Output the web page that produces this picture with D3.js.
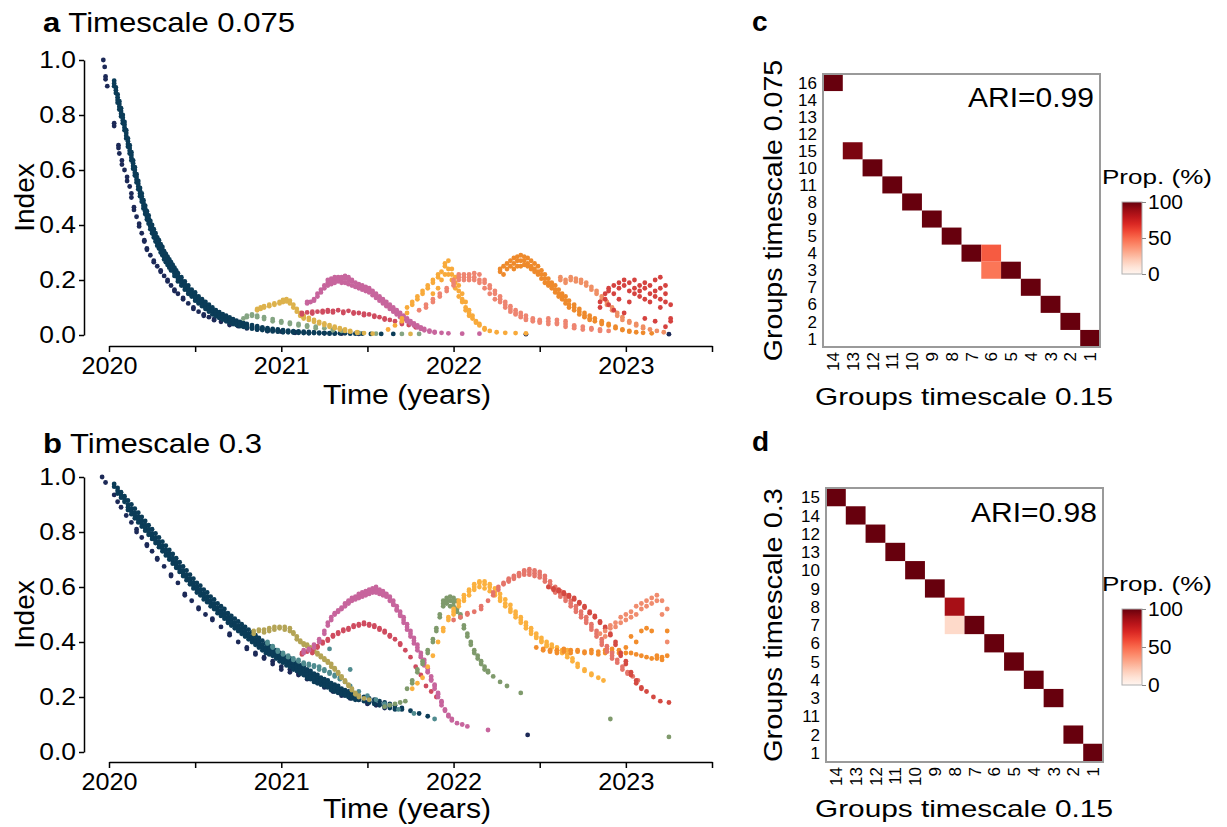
<!DOCTYPE html>
<html>
<head>
<meta charset="utf-8">
<script src="https://cdn.jsdelivr.net/npm/d3@7"></script>
<style>
  body { margin: 0; background: #fff; }
  svg text { font-family: "Liberation Sans", Arial, Helvetica, sans-serif; fill: #000; }
</style>
</head>
<body>
<script>
// axis ticks
var yearTicks = [2020, 2020.5, 2021, 2021.5, 2022, 2022.5, 2023, 2023.5];
var yearLabels = ["2020", "", "2021", "", "2022", "", "2023", ""];
var indexTicks = [0, 0.2, 0.4, 0.6, 0.8, 1.0];

// rows: [time, index values seen at that time...]
// ---- panel a, timescale 0.075
var aNavy = [[2019.967,1.0],[2019.975,.975],[2019.98,.94,.93],[2019.99,.905],[2020.03,.77,.76],[2020.055,.69,.68],[2020.06,.66],[2020.075,.635,.62],[2020.09,.6],[2020.105,.575,.56],[2020.12,.54],[2020.13,.515,.5],[2020.145,.465,.455],[2020.16,.43],[2020.175,.405,.395],[2020.19,.37],[2020.205,.345,.34],[2020.22,.315,.31],[2020.24,.29],[2020.26,.27,.265],[2020.28,.25],[2020.3,.23,.235],[2020.32,.215],[2020.34,.195,.2],[2020.36,.18],[2020.38,.16,.165],[2020.4,.15],[2020.43,.13,.135],[2020.46,.115],[2020.49,.1,.095],[2020.52,.085],[2020.55,.075,.07],[2020.58,.065],[2020.61,.058,.054],[2020.65,.048],[2020.7,.04,.036],[2020.75,.032],[2020.8,.027,.024],[2020.86,.02],[2020.92,.016,.014],[2021.0,.012],[2021.08,.01,.008],[2021.16,.008],[2021.25,.006],[2021.35,.005],[2021.45,.004],[2022.42,.003],[2023.25,.003]];
var aTeal = [[2020.03,.925,.915,.905],[2020.04,.9,.89,.88],[2020.05,.875,.865,.855,.845],[2020.06,.85,.84,.83,.82],[2020.07,.825,.815,.805,.795],[2020.08,.8,.79,.78,.77],[2020.09,.775,.765,.755,.745],[2020.1,.745,.735,.725,.715],[2020.11,.715,.705,.695,.685],[2020.12,.69,.68,.67,.66],[2020.13,.665,.655,.645,.635],[2020.14,.635,.625,.615,.605],[2020.15,.61,.6,.59,.58],[2020.16,.585,.575,.565,.555],[2020.17,.56,.55,.54,.53],[2020.18,.535,.525,.515,.505],[2020.19,.515,.505,.495,.485],[2020.2,.49,.48,.47,.46],[2020.21,.47,.46,.45,.44],[2020.22,.45,.44,.43,.42],[2020.23,.435,.425,.415,.405],[2020.24,.415,.405,.395,.385],[2020.25,.4,.39,.38,.37],[2020.26,.385,.375,.365,.355],[2020.27,.37,.36,.35,.34],[2020.28,.355,.345,.335,.325],[2020.29,.345,.335,.325,.315],[2020.3,.33,.32,.31,.3],[2020.31,.32,.31,.3,.29],[2020.32,.305,.295,.285,.275],[2020.33,.295,.285,.275,.265],[2020.34,.285,.275,.265,.255],[2020.35,.275,.265,.255,.245],[2020.36,.265,.255,.245,.235],[2020.37,.255,.245,.235],[2020.38,.245,.235,.225,.215],[2020.39,.235,.225,.215],[2020.4,.225,.215,.205,.195],[2020.42,.21,.2,.19,.18],[2020.44,.195,.185,.175,.165],[2020.46,.18,.17,.16,.15],[2020.48,.165,.155,.145,.14],[2020.5,.155,.145,.135,.125],[2020.52,.14,.13,.12,.115],[2020.54,.13,.12,.11,.105],[2020.56,.12,.11,.1,.095],[2020.58,.11,.1,.09,.085],[2020.6,.1,.09,.085,.075],[2020.62,.09,.082,.075,.068],[2020.64,.083,.075,.068,.062],[2020.66,.076,.068,.062,.056],[2020.68,.07,.062,.056,.05],[2020.7,.064,.056,.05,.045],[2020.72,.058,.05,.045,.04],[2020.74,.052,.046,.04,.036],[2020.76,.048,.042,.036,.032],[2020.78,.044,.038,.033,.03],[2020.8,.04,.034,.03,.027],[2020.83,.036,.03,.026,.023],[2020.86,.032,.027,.023,.02],[2020.89,.028,.024,.02,.018],[2020.92,.025,.021,.018,.015],[2020.95,.022,.019,.016,.013],[2020.98,.02,.017,.014,.012],[2021.01,.018,.015,.012,.01],[2021.04,.016,.013,.01],[2021.07,.014,.011,.009],[2021.1,.013,.01,.008],[2021.13,.012,.009,.007],[2021.16,.011,.008,.006],[2021.19,.01,.007],[2021.22,.009,.006],[2021.25,.008,.006],[2021.28,.007,.005],[2021.31,.007,.005],[2021.34,.006],[2021.37,.006],[2021.4,.005],[2021.43,.005],[2021.47,.005],[2021.52,.004],[2021.58,.004],[2021.65,.004]];
var aSage = [[2020.78,.06],[2020.8,.07,.065],[2020.83,.075,.07],[2020.86,.07,.065],[2020.9,.065,.058],[2020.95,.058,.05],[2021.0,.05,.045],[2021.05,.045,.04],[2021.1,.04,.035],[2021.15,.035,.03],[2021.2,.03,.025],[2021.25,.025],[2021.3,.02,.017],[2021.35,.015],[2021.45,.008],[2021.55,.005],[2021.7,.004],[2021.8,.004]];
var aMustard = [[2020.86,.095,.09],[2020.88,.1,.095],[2020.9,.105,.1],[2020.93,.11,.105],[2020.96,.115,.11],[2020.99,.12,.115],[2021.01,.128,.12],[2021.03,.13,.122],[2021.05,.125,.115],[2021.07,.11,.1],[2021.09,.095,.085],[2021.11,.08,.07],[2021.13,.07,.065,.06],[2021.16,.062,.055],[2021.19,.055,.048],[2021.22,.048,.042],[2021.25,.042,.036],[2021.28,.036,.03],[2021.31,.03,.025],[2021.34,.025,.02],[2021.37,.02,.015],[2021.4,.015,.012],[2021.44,.01,.008],[2021.48,.007],[2021.53,.005],[2021.75,.004]];
var aPink = [[2021.15,.12,.115],[2021.17,.12],[2021.19,.13,.125],[2021.21,.15,.14],[2021.23,.165,.155],[2021.25,.18,.17],[2021.27,.19,.18,.2],[2021.29,.195,.185,.205],[2021.31,.2,.19,.21],[2021.33,.21,.195,.2],[2021.35,.2,.19,.21],[2021.37,.205,.19,.215],[2021.39,.2,.185,.21],[2021.41,.195,.18,.2],[2021.43,.19,.175],[2021.45,.185,.17,.18],[2021.47,.18,.165,.175],[2021.49,.175,.16,.17],[2021.51,.17,.155,.16],[2021.53,.16,.145,.155],[2021.55,.15,.135,.145],[2021.57,.14,.125,.135],[2021.59,.13,.115,.12],[2021.61,.12,.105,.11],[2021.63,.11,.095,.1],[2021.65,.1,.085,.09],[2021.67,.09,.075,.08],[2021.69,.08,.065,.07],[2021.71,.07,.058,.062],[2021.73,.06,.05],[2021.75,.05,.042],[2021.77,.042,.035],[2021.79,.035,.028],[2021.81,.028,.022],[2021.83,.022,.017],[2021.86,.016,.012],[2021.89,.011,.009],[2021.93,.008],[2021.97,.006],[2022.05,.005],[2022.15,.005]];
var aCrimson = [[2021.12,.08,.075],[2021.15,.082],[2021.18,.078,.085],[2021.21,.085],[2021.24,.088,.082],[2021.27,.09,.085],[2021.3,.088,.082],[2021.33,.09],[2021.36,.085,.08],[2021.39,.088],[2021.42,.082,.078],[2021.45,.08],[2021.48,.078,.072],[2021.51,.075],[2021.54,.07,.066],[2021.57,.065],[2021.6,.06,.056],[2021.63,.055],[2021.66,.05],[2021.7,.045,.04],[2021.74,.036],[2021.78,.028]];
var aYellow = [[2021.62,.02],[2021.66,.035],[2021.7,.05,.06],[2021.73,.08,.1],[2021.76,.11,.12],[2021.79,.13,.14],[2021.82,.15,.16],[2021.85,.17,.18],[2021.88,.19,.2,.15],[2021.91,.21,.22,.17],[2021.93,.23,.2],[2021.95,.25,.22,.26],[2021.97,.27,.24,.22],[2021.99,.24,.22,.2],[2022.01,.21,.19,.17],[2022.03,.18,.16,.14],[2022.05,.15,.13,.12],[2022.07,.12,.1,.09],[2022.09,.09,.08,.07],[2022.11,.07,.06],[2022.13,.05,.045],[2022.15,.04,.035],[2022.18,.025,.02],[2022.21,.015],[2022.25,.01],[2022.3,.008],[2022.36,.007],[2022.42,.006]];
var aSalmon = [[2021.8,.09],[2021.84,.1,.11],[2021.88,.12,.13],[2021.92,.14,.15],[2021.96,.17,.16],[2022.0,.19,.2,.18],[2022.03,.21,.2,.22],[2022.06,.22,.21,.2],[2022.09,.22,.21,.2],[2022.12,.225,.21,.2],[2022.15,.22,.2,.19],[2022.18,.2,.19,.17],[2022.21,.18,.17,.15],[2022.24,.16,.15,.13],[2022.27,.14,.13,.12],[2022.3,.12,.11,.1],[2022.33,.105,.095,.085],[2022.36,.09,.08,.075],[2022.39,.08,.07,.065],[2022.42,.07,.06,.055],[2022.46,.06,.055,.05],[2022.5,.055,.05,.045],[2022.55,.05,.04,.06],[2022.6,.045,.04,.055],[2022.65,.04,.03,.05],[2022.7,.035,.03,.025],[2022.75,.03,.02],[2022.8,.025,.02],[2022.85,.02,.015],[2022.9,.015]];
var aOrange = [[2022.27,.24,.23],[2022.29,.25,.22],[2022.31,.26,.24],[2022.33,.27,.25],[2022.35,.28,.26,.24],[2022.37,.285,.27,.25],[2022.39,.29,.27,.25],[2022.41,.285,.27,.255],[2022.43,.28,.26,.25],[2022.45,.27,.25,.24],[2022.47,.26,.24,.23],[2022.49,.25,.23,.22],[2022.51,.235,.22,.205],[2022.53,.22,.205,.19],[2022.55,.205,.19,.18],[2022.57,.19,.18,.17],[2022.59,.18,.165,.155],[2022.61,.165,.15,.14],[2022.63,.15,.14,.13],[2022.65,.14,.125,.115],[2022.67,.125,.11,.1],[2022.7,.11,.1,.09],[2022.73,.095,.085,.075],[2022.76,.08,.07,.065],[2022.79,.07,.06,.055],[2022.82,.06,.05],[2022.86,.05,.045,.04],[2022.9,.04,.035],[2022.94,.03,.025],[2022.98,.02,.018],[2023.02,.015,.012],[2023.06,.01],[2023.1,.008],[2023.15,.006]];
var aCoral = [[2022.62,.21,.2],[2022.65,.2,.19],[2022.68,.21,.2],[2022.71,.205,.195],[2022.74,.2,.19],[2022.77,.19,.18],[2022.8,.175,.165],[2022.83,.16,.15],[2022.86,.14,.13],[2022.89,.12,.11],[2022.92,.1,.09],[2022.95,.08,.07],[2022.98,.065,.055],[2023.02,.05,.045],[2023.06,.04,.035],[2023.1,.03,.025],[2023.14,.02],[2023.18,.015],[2023.22,.01]];
var aRed = [[2022.85,.12,.1],[2022.88,.15,.13],[2022.9,.17,.16,.11],[2022.93,.18,.15,.09],[2022.96,.19,.17,.13],[2022.99,.2,.18,.08],[2023.02,.19,.16,.12],[2023.05,.2,.17,.15],[2023.08,.18,.16,.14],[2023.11,.19,.17,.13,.06],[2023.14,.18,.15,.12],[2023.17,.2,.16,.14,.05],[2023.2,.21,.17,.13,.1],[2023.23,.18,.15,.12,.03],[2023.26,.11,.06,.05]];

// ---- panel b, timescale 0.3
var bNavy = [[2019.96,1.0],[2019.98,.98],[2020.03,.935],[2020.05,.91],[2020.07,.89],[2020.1,.86],[2020.13,.835],[2020.16,.81,.8],[2020.19,.78],[2020.22,.755,.75],[2020.25,.73],[2020.28,.705,.7],[2020.32,.675],[2020.36,.645,.64],[2020.4,.615],[2020.44,.575,.57],[2020.48,.55],[2020.52,.525,.52],[2020.56,.5],[2020.6,.485,.48],[2020.65,.455],[2020.7,.43,.425],[2020.75,.4],[2020.8,.38,.375],[2020.85,.36,.355],[2020.9,.345,.34],[2020.95,.33,.32],[2021.0,.31,.3],[2021.05,.3,.29],[2021.1,.285,.28],[2021.15,.27,.265],[2021.2,.255],[2021.25,.24,.235],[2021.3,.225,.22],[2021.35,.21,.205],[2021.4,.2,.195],[2021.45,.19],[2021.5,.18,.175],[2021.55,.17],[2021.6,.16],[2022.43,.062]];
var bTeal = [[2020.03,.975,.965],[2020.05,.96,.95,.94],[2020.07,.945,.935,.925],[2020.09,.93,.92,.91],[2020.11,.915,.9,.89,.88],[2020.13,.9,.885,.875,.865],[2020.15,.885,.87,.86,.85],[2020.17,.87,.855,.845,.835],[2020.19,.855,.84,.83,.82],[2020.21,.84,.825,.815,.805],[2020.23,.825,.81,.8,.79],[2020.25,.81,.795,.785,.775],[2020.27,.795,.78,.77,.76],[2020.29,.78,.765,.755,.745],[2020.31,.765,.75,.74,.73],[2020.33,.75,.735,.725,.715],[2020.35,.735,.72,.71,.7],[2020.37,.72,.705,.695,.685],[2020.39,.705,.69,.68,.67],[2020.41,.69,.675,.665,.655],[2020.43,.675,.66,.65,.64],[2020.45,.66,.645,.635,.625],[2020.47,.645,.63,.62,.61],[2020.49,.63,.615,.605,.595],[2020.51,.615,.6,.59,.58],[2020.53,.605,.59,.58,.57],[2020.55,.59,.575,.565,.555],[2020.57,.58,.565,.555,.545],[2020.59,.565,.55,.54,.53],[2020.61,.555,.54,.53,.52],[2020.63,.54,.525,.515,.505],[2020.65,.53,.515,.505,.495],[2020.67,.52,.505,.495,.485],[2020.69,.505,.49,.48,.47],[2020.71,.495,.48,.47,.46],[2020.73,.485,.47,.46,.45],[2020.75,.475,.46,.45,.44],[2020.77,.465,.45,.44,.43],[2020.79,.455,.44,.43,.42],[2020.81,.445,.43,.42,.41],[2020.83,.435,.42,.41,.4],[2020.85,.425,.41,.4,.39],[2020.87,.415,.4,.39,.38],[2020.89,.405,.39,.38,.37],[2020.91,.395,.38,.37,.36],[2020.93,.385,.375,.365,.355],[2020.95,.38,.37,.36,.35],[2020.97,.37,.36,.35,.34],[2020.99,.36,.35,.34,.33],[2021.01,.355,.345,.335,.325],[2021.03,.345,.335,.325,.315],[2021.05,.34,.33,.32,.31],[2021.07,.33,.32,.31,.3],[2021.09,.325,.315,.305,.295],[2021.11,.315,.305,.295,.285],[2021.13,.31,.3,.29,.28],[2021.15,.3,.29,.28,.27],[2021.17,.295,.285,.275,.265],[2021.19,.285,.275,.265,.255],[2021.21,.28,.27,.26,.25],[2021.23,.27,.26,.25,.245],[2021.25,.265,.255,.245,.24],[2021.27,.26,.25,.24,.235],[2021.29,.25,.24,.23,.225],[2021.31,.245,.235,.225,.22],[2021.33,.24,.23,.22,.215],[2021.35,.23,.22,.215,.21],[2021.37,.225,.215,.21,.205],[2021.39,.22,.21,.205,.2],[2021.41,.215,.205,.2,.195],[2021.43,.21,.2,.195,.19],[2021.45,.205,.195,.19],[2021.48,.2,.19,.185],[2021.51,.195,.185,.18],[2021.54,.19,.18,.175],[2021.57,.185,.175,.17],[2021.6,.18,.17,.165],[2021.63,.175,.165,.16],[2021.66,.17,.16,.155],[2021.7,.16,.155],[2021.75,.15],[2021.8,.14],[2021.85,.13]];
var bLightTeal = [[2020.92,.4,.395],[2020.95,.385,.38],[2020.98,.37,.365],[2021.01,.36,.355],[2021.04,.35,.345],[2021.07,.34,.335],[2021.1,.335,.33],[2021.13,.325,.32],[2021.16,.32,.315],[2021.19,.315,.31],[2021.22,.31,.3],[2021.25,.3,.295],[2021.28,.29,.285,.375],[2021.31,.28,.275],[2021.34,.27,.265],[2021.37,.255],[2021.4,.3,.24],[2021.45,.22],[2021.5,.205],[2021.55,.19],[2021.6,.175],[2021.68,.155],[2021.77,.14],[2021.89,.12]];
var bOlive = [[2020.84,.44,.43],[2020.87,.44,.445],[2020.9,.445,.435],[2020.93,.44,.45],[2020.96,.445,.455],[2020.99,.45,.455],[2021.02,.455,.445],[2021.05,.45,.44],[2021.07,.435,.43],[2021.09,.42,.41],[2021.11,.405,.4],[2021.13,.395,.39],[2021.15,.39,.385],[2021.17,.38,.375],[2021.19,.37,.365],[2021.21,.36,.355],[2021.23,.35,.345],[2021.25,.34,.335],[2021.27,.33,.325],[2021.29,.32,.31],[2021.31,.305,.3],[2021.33,.29,.285],[2021.35,.275,.27],[2021.37,.26,.255],[2021.39,.245,.24],[2021.41,.23,.225],[2021.43,.215,.21],[2021.45,.205,.2],[2021.48,.195],[2021.51,.19]];
var bPink = [[2021.13,.36,.37],[2021.16,.37,.375],[2021.19,.39,.38],[2021.22,.41,.4],[2021.25,.44,.43],[2021.27,.47,.46],[2021.29,.49,.48],[2021.31,.505,.5],[2021.33,.515,.51],[2021.35,.525,.52],[2021.37,.535,.53,.54],[2021.39,.545,.54,.55],[2021.41,.555,.55,.56],[2021.43,.56,.555,.565],[2021.45,.57,.56,.575],[2021.47,.575,.565,.58],[2021.49,.58,.57,.585],[2021.51,.585,.575,.59],[2021.53,.59,.58,.595],[2021.55,.59,.58,.6],[2021.57,.59,.575,.585],[2021.59,.585,.57,.58],[2021.61,.575,.565,.57],[2021.63,.565,.55,.56],[2021.65,.55,.54,.535],[2021.67,.53,.52,.515],[2021.69,.51,.5,.495],[2021.71,.49,.48,.47],[2021.73,.465,.455,.445],[2021.75,.44,.43,.42],[2021.77,.415,.405,.395],[2021.79,.39,.38,.37],[2021.81,.36,.35,.345],[2021.83,.335,.325,.315],[2021.85,.305,.295,.29],[2021.87,.275,.265,.26],[2021.89,.245,.24,.23],[2021.91,.215,.21,.2],[2021.93,.185,.18,.17],[2021.95,.155,.15],[2021.97,.135,.13],[2021.99,.12,.115],[2022.02,.105],[2022.05,.1],[2022.08,.093],[2022.2,.08]];
var bCrimson = [[2021.12,.36,.355],[2021.15,.365],[2021.18,.36,.37],[2021.21,.38,.385],[2021.24,.395,.4],[2021.27,.41,.405],[2021.3,.42,.425],[2021.33,.43,.435],[2021.36,.44,.445],[2021.39,.45,.445],[2021.42,.455,.46],[2021.45,.46,.465],[2021.48,.465,.47],[2021.51,.465,.46],[2021.54,.455,.46],[2021.57,.45,.445],[2021.6,.44,.435],[2021.63,.425,.42],[2021.66,.41],[2021.69,.395,.39],[2021.72,.37],[2021.75,.345],[2021.78,.31],[2021.81,.28],[2021.84,.24],[2021.87,.22],[2021.9,.2]];
var bSage = [[2021.6,.165],[2021.63,.17],[2021.66,.175],[2021.69,.18],[2021.72,.185],[2021.73,.23],[2021.76,.26,.25],[2021.79,.3,.29],[2021.82,.33,.32],[2021.85,.37,.36],[2021.88,.41,.4],[2021.9,.45,.44],[2021.92,.49,.5],[2021.94,.54,.55,.53],[2021.96,.56,.55,.54],[2021.98,.565,.55,.53],[2022.0,.56,.545,.53],[2022.02,.55,.52,.51],[2022.04,.5,.49],[2022.06,.46,.45],[2022.08,.43,.42],[2022.1,.4,.39],[2022.12,.37,.36],[2022.14,.35,.34],[2022.16,.33,.32],[2022.18,.31,.3],[2022.2,.295,.29],[2022.23,.275],[2022.27,.255],[2022.31,.24],[2022.39,.215],[2022.91,.12],[2023.25,.055]];
var bYellow = [[2021.76,.23],[2021.79,.25],[2021.82,.27],[2021.85,.31],[2021.88,.35],[2021.91,.4],[2021.94,.44,.45],[2021.97,.48,.49],[2022.0,.51,.52,.5],[2022.03,.54,.55,.53],[2022.06,.56,.57,.55],[2022.09,.585,.59,.57],[2022.12,.6,.61,.59],[2022.15,.615,.62,.6],[2022.18,.62,.61,.595],[2022.21,.61,.6,.585],[2022.24,.595,.58,.57],[2022.27,.575,.56,.55],[2022.3,.555,.54,.53],[2022.33,.535,.52,.51],[2022.36,.51,.5,.49],[2022.39,.49,.48,.47],[2022.42,.47,.46,.45],[2022.45,.45,.44,.43],[2022.48,.43,.42,.415],[2022.51,.415,.405,.4],[2022.54,.4,.39,.385],[2022.57,.39,.38],[2022.6,.38,.37,.365],[2022.63,.37,.36],[2022.66,.355,.345,.37],[2022.69,.34,.33],[2022.72,.32,.31],[2022.76,.3,.295],[2022.8,.285,.28],[2022.84,.27],[2022.87,.26]];
var bOrange = [[2022.48,.38],[2022.52,.375,.37],[2022.56,.37,.365],[2022.6,.37,.36],[2022.64,.365,.375],[2022.68,.37,.36],[2022.72,.365,.37],[2022.76,.36,.365],[2022.8,.37,.36],[2022.84,.365,.355],[2022.88,.37,.36],[2022.92,.375,.365],[2022.96,.37,.36],[2023.0,.38,.36],[2023.03,.42,.36],[2023.06,.4,.355],[2023.09,.44,.35],[2023.12,.45,.345],[2023.15,.44,.34],[2023.18,.35,.34],[2023.21,.345,.335],[2023.24,.35,.44]];
var bSalmon = [[2022.0,.48],[2022.04,.49],[2022.08,.5,.505],[2022.12,.51],[2022.16,.52,.53],[2022.2,.55],[2022.23,.57,.58],[2022.26,.6,.59],[2022.29,.615,.61],[2022.32,.63,.625,.62],[2022.35,.64,.635,.63],[2022.38,.65,.645,.64],[2022.41,.66,.655,.645],[2022.44,.665,.655,.645],[2022.47,.66,.65,.64],[2022.5,.655,.645,.635],[2022.53,.64,.63,.62],[2022.56,.62,.61,.6],[2022.59,.6,.59,.58],[2022.62,.585,.575,.565],[2022.65,.57,.56,.55],[2022.68,.55,.54,.53],[2022.71,.53,.52,.51],[2022.74,.51,.5,.49],[2022.77,.49,.48,.47],[2022.8,.465,.455,.445],[2022.83,.44,.43,.42],[2022.86,.41,.4,.39],[2022.89,.385,.375,.365],[2022.92,.36,.35,.34],[2022.95,.335,.325],[2022.98,.31,.3],[2023.01,.29,.285],[2023.04,.275],[2023.07,.26]];
var bRed = [[2022.55,.6],[2022.58,.595,.59],[2022.61,.59,.585],[2022.64,.58,.575],[2022.67,.57,.565],[2022.7,.56,.555],[2022.73,.545,.54],[2022.76,.53,.525],[2022.79,.51,.505],[2022.82,.495,.49],[2022.85,.475,.47],[2022.88,.455,.45],[2022.91,.43,.425],[2022.94,.4,.39],[2022.97,.36,.35],[2023.0,.32,.33],[2023.03,.29,.28],[2023.06,.26,.25],[2023.09,.235,.23],[2023.12,.22],[2023.16,.2],[2023.2,.185],[2023.25,.18]];
var bCoral = [[2022.85,.43],[2022.88,.44,.42],[2022.91,.46,.45],[2022.94,.47,.455],[2022.97,.49,.47],[2023.0,.5,.48],[2023.03,.51,.49],[2023.06,.53,.5],[2023.09,.54,.52],[2023.12,.55,.53],[2023.15,.56,.54],[2023.18,.57,.55],[2023.21,.55,.5],[2023.24,.52,.4]];

// heatmaps: [row group, column group, proportion %]
var hmCols = ["14","13","12","11","10","9","8","7","6","5","4","3","2","1"];
var cRows = ["16","14","13","12","15","10","11","8","9","5","4","3","7","6","2","1"];
var cCells = [["16","14",100],["15","13",96],["10","12",100],["11","11",100],["8","10",100],["9","9",100],["5","8",100],["4","7",100],["4","6",54],["3","6",46],["3","5",100],["7","4",100],["6","3",100],["2","2",100],["1","1",100]];
var dRows = ["15","14","12","13","10","9","8","7","6","5","4","3","11","2","1"];
var dCells = [["15","14",100],["14","13",100],["12","12",100],["13","11",100],["10","10",100],["9","9",100],["8","8",86],["7","8",14],["7","7",100],["6","6",100],["5","5",100],["4","4",100],["3","3",100],["2","2",100],["1","1",100]];
var propTicks = [0, 50, 100];

var colours = {
  navy: "#1c2957", teal: "#0b3c58", sage: "#85a583", mustard: "#ddb24c",
  pink: "#c7659d", crimson: "#cf4b5f", yellow: "#f8aa3b", salmon: "#ee8571",
  orange: "#ee8a2c", coral: "#ef8f64", red: "#d5423f",
  lightteal: "#4f8b8f", olive: "#b4a456", bsage: "#7f9a6c", byellow: "#fbb13f",
  bsalmon: "#e5756a", bred: "#d44a42", borange: "#f28d2c", bcoral: "#f08c6e"
};

var seriesA = [["navy", aNavy], ["teal", aTeal], ["sage", aSage], ["mustard", aMustard],
  ["crimson", aCrimson], ["pink", aPink], ["yellow", aYellow], ["salmon", aSalmon],
  ["orange", aOrange], ["coral", aCoral], ["red", aRed]];
var seriesB = [["navy", bNavy], ["teal", bTeal], ["lightteal", bLightTeal], ["olive", bOlive],
  ["crimson", bCrimson], ["pink", bPink], ["bsage", bSage], ["byellow", bYellow],
  ["borange", bOrange], ["bsalmon", bSalmon], ["bred", bRed], ["bcoral", bCoral]];

var svg = d3.select("body").append("svg")
  .attr("width", 1227).attr("height", 827);

// the source figure's lettering is a bit wider than Arial
function widen(sel, k) {
  sel.each(function() {
    var w = this.getComputedTextLength();
    d3.select(this).attr("textLength", w * k).attr("lengthAdjust", "spacingAndGlyphs");
  });
}
function fitTo(sel, len) {
  sel.attr("textLength", len).attr("lengthAdjust", "spacingAndGlyphs");
}

var x = d3.scaleLinear().domain([2020, 2023.5]).range([109, 712]);

function scatterPanel(series, top, bottom, axisY, letter, title, titleY, titleW, xlabY) {
  var y = d3.scaleLinear().domain([0, 1]).range([bottom, top]);
  var g = svg.append("g");

  series.forEach(function(s) {
    var pts = [];
    s[1].forEach(function(r) {
      for (var i = 1; i < r.length; i++) pts.push([r[0], r[i]]);
    });
    g.append("g").selectAll("circle")
      .data(pts)
      .enter().append("circle")
        .attr("cx", function(d) { return x(d[0]); })
        .attr("cy", function(d) { return y(d[1]); })
        .attr("r", 2.4)
        .attr("fill", colours[s[0]]);
  });

  var ya = g.append("g")
    .attr("transform", "translate(84,0)")
    .call(d3.axisLeft(y).tickValues(indexTicks).tickFormat(d3.format(".1f"))
      .tickSize(5).tickSizeOuter(0).tickPadding(3));
  var xa = g.append("g")
    .attr("transform", "translate(0," + axisY + ")")
    .call(d3.axisBottom(x).tickValues(yearTicks)
      .tickFormat(function(d, i) { return yearLabels[i]; })
      .tickSize(6).tickSizeOuter(0).tickPadding(5));
  [ya, xa].forEach(function(a) {
    a.selectAll("path, line").attr("stroke", "#000").attr("stroke-width", 1.5);
    a.selectAll("text").attr("fill", "#000")
      .style("font-family", "'Liberation Sans',Arial,sans-serif")
      .style("font-size", "24px");
  });
  widen(ya.selectAll("text"), 1.1);
  widen(xa.selectAll("text").filter(function(d, i) { return yearLabels[i] !== ""; }), 1.05);

  var t = g.append("text").attr("x", 43).attr("y", titleY)
    .style("font-size", "28px");
  t.append("tspan").attr("font-weight", "bold").text(letter);
  t.append("tspan").text(" " + title);
  fitTo(t, titleW);

  g.append("text")
    .attr("transform", "translate(34," + ((top + bottom) / 2) + ") rotate(-90)")
    .attr("text-anchor", "middle").style("font-size", "28px").text("Index");
  var xl = g.append("text")
    .attr("x", 407).attr("y", xlabY)
    .attr("text-anchor", "middle").style("font-size", "27px").text("Time (years)");
  fitTo(xl, 168);
}

scatterPanel(seriesA, 60, 335, 346, "a", "Timescale 0.075", 32, 252, 404);
scatterPanel(seriesB, 477, 752, 762, "b", "Timescale 0.3", 453, 219, 818);

function heatPanel(rows, cells, box, letter, letterY, ari, ariY, ylab, xlabY, bar) {
  var g = svg.append("g");
  var xb = d3.scaleBand().domain(hmCols).range([box[0], box[2]]);
  var yb = d3.scaleBand().domain(rows).range([box[1], box[3]]);

  g.selectAll("rect.cell")
    .data(cells)
    .enter().append("rect")
      .attr("class", "cell")
      .attr("x", function(d) { return xb(d[1]); })
      .attr("y", function(d) { return yb(d[0]); })
      .attr("width", xb.bandwidth())
      .attr("height", yb.bandwidth())
      .attr("fill", function(d) { return d3.interpolateReds(d[2] / 100); });

  g.append("rect")
    .attr("x", box[0]).attr("y", box[1])
    .attr("width", box[2] - box[0]).attr("height", box[3] - box[1])
    .attr("fill", "none").attr("stroke", "#9a9a9a").attr("stroke-width", 2);

  g.selectAll("text.row")
    .data(rows)
    .enter().append("text")
      .attr("class", "row")
      .attr("x", box[0] - 6)
      .attr("y", function(d) { return yb(d) + yb.bandwidth() / 2; })
      .attr("dy", "0.36em")
      .attr("text-anchor", "end")
      .style("font-size", "17px")
      .text(function(d) { return d; });

  g.selectAll("text.col")
    .data(hmCols)
    .enter().append("text")
      .attr("class", "col")
      .attr("transform", function(d) {
        return "translate(" + (xb(d) + xb.bandwidth() / 2) + "," + (box[3] + 5) + ") rotate(-90)";
      })
      .attr("dy", "0.36em")
      .attr("text-anchor", "end")
      .style("font-size", "17px")
      .text(function(d) { return d; });

  g.append("text").attr("x", 752).attr("y", letterY)
    .attr("font-weight", "bold").style("font-size", "28px").text(letter);
  fitTo(g.append("text").attr("x", box[2] - 6).attr("y", ariY)
    .attr("text-anchor", "end").style("font-size", "27px").text(ari), 126);
  fitTo(g.append("text")
    .attr("transform", "translate(782," + ((box[1] + box[3]) / 2) + ") rotate(-90)")
    .attr("text-anchor", "middle").style("font-size", "25px").text(ylab),
    ylab.length * 13.7);
  fitTo(g.append("text").attr("x", 964).attr("y", xlabY)
    .attr("text-anchor", "middle").style("font-size", "24px").text("Groups timescale 0.15"), 298);

  // colour bar
  var gid = "grad" + letter;
  var grad = svg.append("defs").append("linearGradient")
    .attr("id", gid).attr("x1", 0).attr("y1", 1).attr("x2", 0).attr("y2", 0);
  d3.range(0, 1.01, 0.1).forEach(function(p) {
    grad.append("stop").attr("offset", p).attr("stop-color", d3.interpolateReds(p));
  });
  var cb = d3.scaleLinear().domain([0, 100]).range([bar[1] + bar[2], bar[1]]);
  g.append("rect").attr("x", bar[0]).attr("y", bar[1])
    .attr("width", 20).attr("height", bar[2])
    .attr("fill", "url(#" + gid + ")").attr("stroke", "#b0b0b0").attr("stroke-width", 1);
  var ca = g.append("g").attr("transform", "translate(" + (bar[0] + 20) + ",0)")
    .call(d3.axisRight(cb).tickValues(propTicks).tickSize(4).tickPadding(2));
  ca.select(".domain").remove();
  ca.selectAll("line").attr("stroke", "#888");
  ca.selectAll("text").attr("fill", "#000")
    .style("font-family", "'Liberation Sans',Arial,sans-serif").style("font-size", "20px");
  widen(ca.selectAll("text"), 1.05);
  fitTo(g.append("text").attr("x", bar[0] + 35).attr("y", bar[1] - 18)
    .attr("text-anchor", "middle").style("font-size", "21px").text("Prop. (%)"), 110);
}

heatPanel(cRows, cCells, [823, 74, 1100, 347], "c", 31, "ARI=0.99", 107,
  "Groups timescale 0.075", 405, [1122, 202, 72]);
heatPanel(dRows, dCells, [826, 488, 1103, 762], "d", 451, "ARI=0.98", 522,
  "Groups timescale 0.3", 817, [1122, 609, 76]);
</script>
</body>
</html>
